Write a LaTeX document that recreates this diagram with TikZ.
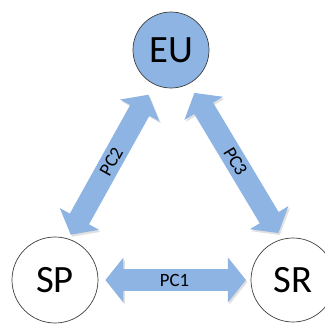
\documentclass[tikz,border=0pt]{standalone}
\usepackage{fontspec}
\setmainfont{Carlito}
\usepackage{tikz}
\usetikzlibrary{arrows.meta}
\definecolor{pcblue}{RGB}{141,180,226}

\begin{document}
\begin{tikzpicture}[x=0.03cm, y=-0.03cm,
		party/.style={circle, draw=black!75, line width=0.6pt, inner sep=0pt, font=\fontsize{33}{36}\selectfont},
		pcarrow/.style={draw=pcblue, line width=0.66cm, {Triangle[width=1.32cm,length=0.54cm]}-{Triangle[width=1.32cm,length=0.54cm]},
			preaction={draw=black!12, transform canvas={shift={(1.5, 2)}}}},
		pclabel/.style={font=\fontsize{16}{18}\selectfont, text=black}]
			%%%%% START %%%%%
			
			\useasboundingbox (0, 0) rectangle (325, 324);
			
			\node[party, fill=pcblue, minimum size=2.28cm] (eu) at (171, 50) {EU};
			\node[party, fill=white, minimum size=2.58cm] (sp) at (55, 280) {SP};
			\node[party, fill=white, minimum size=2.52cm] (sr) at (293, 280) {SR};
			
			\draw[pcarrow, shorten <=6, shorten >=4] (sp) -- (sr) node[pclabel, midway] {PC1};
			\draw[pcarrow, shorten <=4, shorten >=10] (sp.72) -- (eu.244) node[pclabel, midway, sloped] {PC2};
			\draw[pcarrow, shorten <=9, shorten >=6] (eu.298) -- (sr.105) node[pclabel, midway, sloped] {PC3};
			
			%%%%% END %%%%%
		\end{tikzpicture}
\end{document}
